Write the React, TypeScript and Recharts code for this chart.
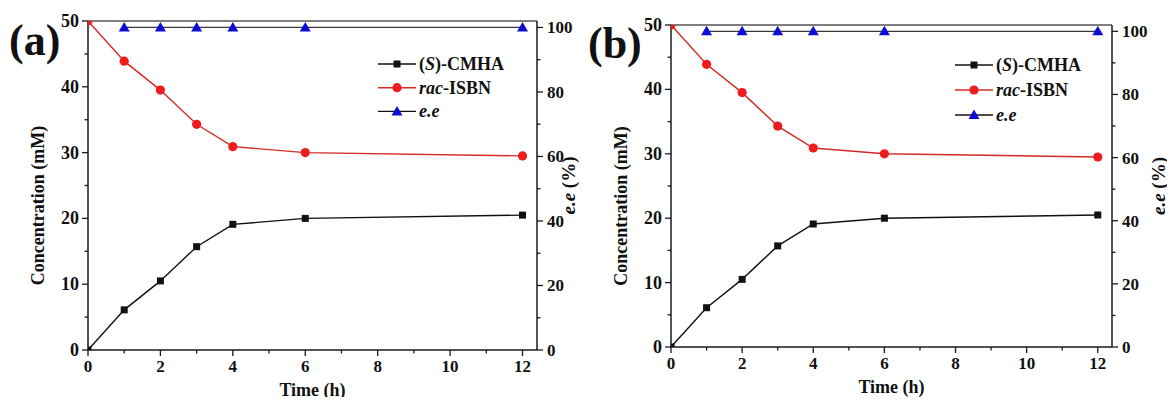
import React from 'react';
import { LineChart, Line, XAxis, YAxis, Legend, ReferenceLine, Label } from 'recharts';

// measured data (same in both panels)
const times = [0, 1, 2, 3, 4, 6, 12];
const cmha = [0, 6.1, 10.5, 15.7, 19.1, 20.0, 20.5];
const isbn = [50, 43.9, 39.5, 34.3, 30.9, 30.0, 29.5];
const ee = [null, 100, 100, 100, 100, 100, 100];

const xTicks = [0, 1, 2, 3, 4, 5, 6, 7, 8, 9, 10, 11, 12];
const xLabels = [0, 2, 4, 6, 8, 10, 12];
const concTicks = [0, 5, 10, 15, 20, 25, 30, 35, 40, 45, 50];
const concLabels = [0, 10, 20, 30, 40, 50];
const eeTicks = [0, 10, 20, 30, 40, 50, 60, 70, 80, 90, 100];
const eeLabels = [0, 20, 40, 60, 80, 100];

const legendNames: [string, boolean][][] = [
  [['(', false], ['S', true], [')-CMHA', false]],
  [['rac', true], ['-ISBN', false]],
  [['e.e', true]],
];

const data = times.map((t, i) => ({ t, cmha: cmha[i], isbn: isbn[i], ee: ee[i] }));

const FONT = '"Liberation Serif", "Times New Roman", serif';
const AXIS = '#1a1a1a';
const BLACK = '#111111';
const RED_LINE = '#d42a26';
const RED_DOT = '#ee1c1c';
const BLUE = '#0d0dd6';
const EE_LINE = '#3a3a3a';

const tickStyle = { fontFamily: FONT, fontSize: 17, fontWeight: 700, fill: '#111' };
const titleStyle = { fontFamily: FONT, fontSize: 18, fontWeight: 700, fill: '#111' };

const XTick = (props: any) => {
  const { x, y, payload } = props;
  const major = xLabels.includes(payload.value);
  return (
    <g>
      <line x1={x} x2={x} y1={y} y2={y + (major ? 6 : 3.5)} stroke={AXIS} strokeWidth={1.3} />
      {major && (
        <text x={x} y={y + 22} textAnchor="middle" style={tickStyle}>
          {payload.value}
        </text>
      )}
    </g>
  );
};

const LeftTick = (props: any) => {
  const { x, y, payload } = props;
  const major = concLabels.includes(payload.value);
  return (
    <g>
      <line x1={x} x2={x - (major ? 6 : 3.5)} y1={y} y2={y} stroke={AXIS} strokeWidth={1.3} />
      {major && (
        <text x={x - 9} y={y + 6} textAnchor="end" style={{ ...tickStyle, fontSize: 18 }}>
          {payload.value}
        </text>
      )}
    </g>
  );
};

const RightTick = (props: any) => {
  const { x, y, payload } = props;
  const major = eeLabels.includes(payload.value);
  return (
    <g>
      <line x1={x} x2={x + (major ? 6 : 3.5)} y1={y} y2={y} stroke={AXIS} strokeWidth={1.3} />
      {major && (
        <text x={x + 10} y={y + 6} textAnchor="start" style={tickStyle}>
          {payload.value}
        </text>
      )}
    </g>
  );
};

const squareDot = (props: any) => {
  const { cx, cy, index } = props;
  if (cx == null || cy == null) return <g key={`sq${index}`} />;
  if (index === 0) return <rect key={`sq${index}`} x={cx} y={cy - 3.5} width={3.5} height={3.5} fill={BLACK} />;
  return <rect key={`sq${index}`} x={cx - 3.5} y={cy - 3.5} width={7} height={7} fill={BLACK} />;
};

const circleDot = (props: any) => {
  const { cx, cy, index } = props;
  if (cx == null || cy == null) return <g key={`ci${index}`} />;
  if (index === 0)
    return <path key={`ci${index}`} d={`M${cx},${cy} L${cx + 4.5},${cy} A4.5,4.5 0 0 1 ${cx},${cy + 4.5} Z`} fill={RED_DOT} />;
  return <circle key={`ci${index}`} cx={cx} cy={cy} r={4.6} fill={RED_DOT} />;
};

const triPoints = (cx: number, cy: number) => `${cx},${cy - 5.5} ${cx - 5.5},${cy + 4} ${cx + 5.5},${cy + 4}`;

const triDot = (props: any) => {
  const { cx, cy, index, value } = props;
  if (cx == null || cy == null || value == null) return <g key={`tr${index}`} />;
  return <polygon key={`tr${index}`} points={triPoints(cx, cy)} fill={BLUE} />;
};

const makeLegend = (rowGap: number) => () => {
  const lineColors = [BLACK, RED_LINE, BLACK];
  return (
    <svg width={160} height={24 + rowGap * 2} style={{ overflow: 'visible' }}>
      {legendNames.map((parts, i) => {
        const y = 12 + i * rowGap;
        return (
          <g key={i}>
            <line x1={0} x2={38} y1={y} y2={y} stroke={lineColors[i]} strokeWidth={1.4} />
            {i === 0 && <rect x={15.5} y={y - 3.5} width={7} height={7} fill={BLACK} />}
            {i === 1 && <circle cx={19} cy={y} r={4.6} fill={RED_DOT} />}
            {i === 2 && <polygon points={triPoints(19, y)} fill={BLUE} />}
            <text x={41} y={y + 6} style={{ ...titleStyle, fontSize: 18 }}>
              {parts.map(([s, it], k) => (
                <tspan key={k} fontStyle={it ? 'italic' : 'normal'}>
                  {s}
                </tspan>
              ))}
            </text>
          </g>
        );
      })}
    </svg>
  );
};

interface PanelProps {
  tag: string;
  width: number;
  top: number;
  leftW: number;
  rightW: number;
  bottomH: number;
  eeMax: number;
  legendX: number;
  legendY: number;
  rowGap: number;
  tagX: number;
  tagY: number;
  rightTitleDx: number;
}

function Panel(p: PanelProps) {
  return (
    <LineChart
      width={p.width}
      height={405}
      data={data}
      margin={{ top: p.top, right: 0, left: 0, bottom: 0 }}
      style={{ overflow: 'visible' }}
    >
      <XAxis
        dataKey="t"
        type="number"
        domain={[0, 12.4]}
        ticks={xTicks}
        interval={0}
        tickSize={0}
        tickMargin={0}
        tickLine={false}
        tick={<XTick />}
        height={p.bottomH}
        axisLine={{ stroke: AXIS, strokeWidth: 1.5 }}
      >
        <Label
          content={(lp: any) => {
            const vb = lp.viewBox;
            return (
              <text x={vb.x + vb.width / 2} y={vb.y + 46} textAnchor="middle" style={titleStyle}>
                Time (h)
              </text>
            );
          }}
        />
      </XAxis>
      <YAxis
        yAxisId="c"
        orientation="left"
        domain={[0, 50]}
        ticks={concTicks}
        interval={0}
        tickSize={0}
        tickMargin={0}
        tickLine={false}
        tick={<LeftTick />}
        width={p.leftW}
        axisLine={{ stroke: AXIS, strokeWidth: 1.5 }}
      >
        <Label
          content={(lp: any) => {
            const vb = lp.viewBox;
            const cx = vb.x + vb.width - 50;
            const cy = vb.y + vb.height / 2 + 20;
            return (
              <g>
                <text
                  x={cx}
                  y={cy}
                  textAnchor="middle"
                  dominantBaseline="central"
                  transform={`rotate(-90, ${cx}, ${cy})`}
                  style={titleStyle}
                >
                  Concentration (mM)
                </text>
                <text x={p.tagX} y={p.tagY} style={{ ...titleStyle, fontSize: 44 }}>
                  {p.tag}
                </text>
              </g>
            );
          }}
        />
      </YAxis>
      <YAxis
        yAxisId="e"
        orientation="right"
        domain={[0, p.eeMax]}
        ticks={eeTicks}
        interval={0}
        tickSize={0}
        tickMargin={0}
        tickLine={false}
        tick={<RightTick />}
        width={p.rightW}
        axisLine={{ stroke: AXIS, strokeWidth: 1.5 }}
      >
        <Label
          content={(lp: any) => {
            const vb = lp.viewBox;
            const cx = vb.x + p.rightTitleDx;
            const cy = vb.y + vb.height / 2;
            return (
              <text
                x={cx}
                y={cy}
                textAnchor="middle"
                dominantBaseline="central"
                transform={`rotate(-90, ${cx}, ${cy})`}
                style={{ ...titleStyle, fontSize: 19 }}
              >
                <tspan fontStyle="italic">e.e</tspan>
                <tspan> (%)</tspan>
              </text>
            );
          }}
        />
      </YAxis>
      <ReferenceLine yAxisId="c" y={50} stroke="#555" strokeWidth={1.5} />
      <Line
        yAxisId="e"
        dataKey="ee"
        stroke={EE_LINE}
        strokeWidth={1.3}
        dot={triDot}
        activeDot={false}
        isAnimationActive={false}
      />
      <Line
        yAxisId="c"
        dataKey="cmha"
        stroke={BLACK}
        strokeWidth={1.4}
        dot={squareDot}
        activeDot={false}
        isAnimationActive={false}
      />
      <Line
        yAxisId="c"
        dataKey="isbn"
        stroke={RED_LINE}
        strokeWidth={1.4}
        dot={circleDot}
        activeDot={false}
        isAnimationActive={false}
      />
      <Legend
        layout="horizontal"
        align="center"
        verticalAlign="middle"
        content={makeLegend(p.rowGap)}
        wrapperStyle={{ left: p.legendX, top: p.legendY, width: 160, height: 90 }}
      />
    </LineChart>
  );
}

export default function App() {
  return (
    <div style={{ position: 'relative', width: 1175, height: 405, margin: -8, background: '#fff' }}>
      <div style={{ position: 'absolute', left: 0, top: 0 }}>
        <Panel
          tag="(a)"
          width={580}
          top={21}
          leftW={88}
          rightW={43}
          bottomH={55}
          eeMax={102}
          legendX={378}
          legendY={52}
          rowGap={23.7}
          tagX={9}
          tagY={55}
          rightTitleDx={31}
        />
      </div>
      <div style={{ position: 'absolute', left: 580, top: 0 }}>
        <Panel
          tag="(b)"
          width={595}
          top={25}
          leftW={91}
          rightW={63}
          bottomH={58}
          eeMax={102}
          legendX={375}
          legendY={53}
          rowGap={25}
          tagX={8}
          tagY={58}
          rightTitleDx={46}
        />
      </div>
    </div>
  );
}
